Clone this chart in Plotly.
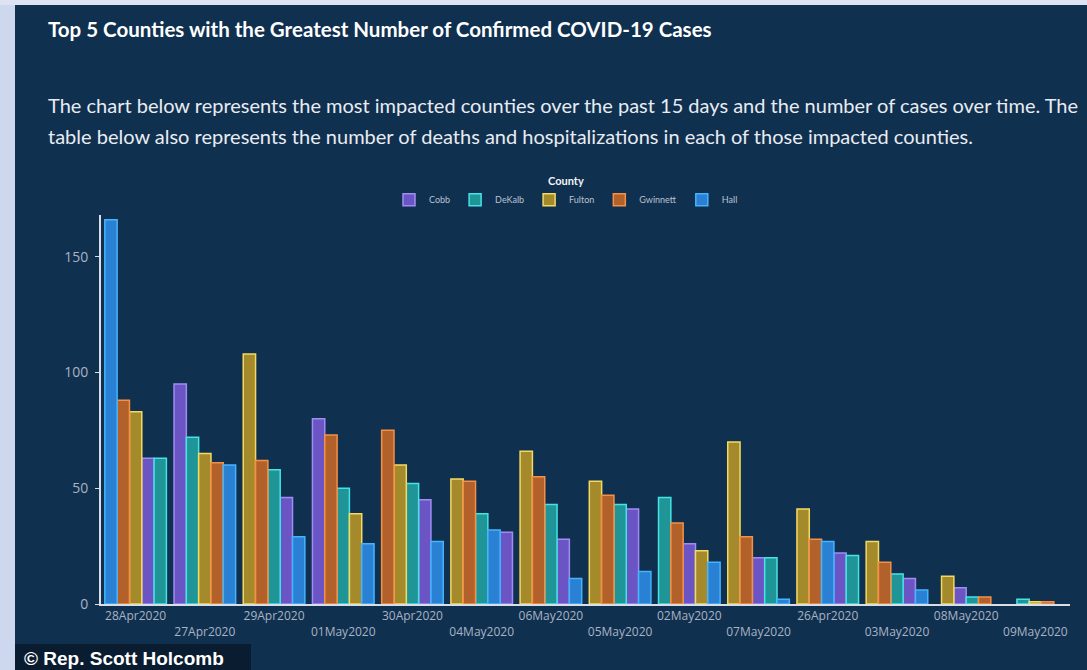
import plotly.graph_objects as go

# dados (casos confirmados por condado)
datas = ['28Apr2020', '27Apr2020', '29Apr2020', '01May2020', '30Apr2020', '04May2020', '06May2020',
         '05May2020', '02May2020', '07May2020', '26Apr2020', '03May2020', '08May2020', '09May2020']
condados = ['Cobb', 'DeKalb', 'Fulton', 'Gwinnett', 'Hall']
cobb = [63, 95, 46, 80, 45, 31, 28, 41, 26, 20, 22, 11, 7, None]
dekalb = [63, 72, 58, 50, 52, 39, 43, 43, 46, 20, 21, 13, 3, 2]
fulton = [83, 65, 108, 39, 60, 54, 66, 53, 23, 70, 41, 27, 12, 1]
gwinnett = [88, 61, 62, 73, 75, 53, 55, 47, 35, 29, 28, 18, 3, 1]
hall = [166, 60, 29, 26, 27, 32, 11, 14, 18, 2, 27, 6, None, None]
y_ticks = [0, 50, 100, 150]

valores = {'Cobb': cobb, 'DeKalb': dekalb, 'Fulton': fulton, 'Gwinnett': gwinnett, 'Hall': hall}

cores = {
    'Cobb': ('#6b55c4', '#a08cf5'),
    'DeKalb': ('#1f9598', '#45e3e6'),
    'Fulton': ('#a58a2c', '#f2da63'),
    'Gwinnett': ('#b3612b', '#f59046'),
    'Hall': ('#2a80d2', '#45b4ff'),
}

fundo = '#10304f'
largura = 0.178

# posição de cada barra: ordenada do maior para o menor dentro de cada data
offsets = {c: [] for c in condados}
for i in range(len(datas)):
    presentes = [c for c in condados if valores[c][i] is not None]
    ordem = sorted(presentes, key=lambda c: -valores[c][i])
    n = len(ordem)
    for c in condados:
        if c in ordem:
            offsets[c].append(-n * largura / 2 + ordem.index(c) * largura)
        else:
            offsets[c].append(0)

fig = go.Figure()
for c in condados:
    fig.add_trace(go.Bar(
        name=c,
        x=datas,
        y=valores[c],
        width=largura,
        offset=offsets[c],
        marker=dict(color=cores[c][0], line=dict(color=cores[c][1], width=1.5)),
    ))

# rótulos alternados no eixo x
rotulos = [d if i % 2 == 0 else '<br>' + d for i, d in enumerate(datas)]


def px_x(px):
    return (px - 101) / 969


def px_y(py):
    return (604 - py) / 389


fig.update_layout(
    width=1087, height=670,
    barmode='overlay',
    paper_bgcolor=fundo,
    plot_bgcolor=fundo,
    margin=dict(l=101, r=17, t=215, b=66),
    font=dict(family='Lato, Open Sans, sans-serif', color='#e8ecf2'),
    xaxis=dict(
        type='category', tickvals=datas, ticktext=rotulos,
        showgrid=False, showline=True, linecolor='#d8dde6', linewidth=2,
        ticks='', tickfont=dict(size=12, color='#a9b3c4', family='Open Sans, sans-serif'),
        tickangle=0, range=[-0.5, len(datas) - 0.5],
    ),
    yaxis=dict(
        range=[0, 168], tickvals=y_ticks, showgrid=False, zeroline=False,
        showline=True, linecolor='#d8dde6', linewidth=2,
        ticks='outside', ticklen=4, tickcolor='#d8dde6', ticklabelstandoff=4,
        tickfont=dict(size=14, color='#a9b3c4', family='Open Sans, sans-serif'),
    ),
    legend=dict(
        orientation='h', x=px_x(566), xanchor='center', y=px_y(171), yanchor='top',
        title=dict(text='<b>County</b>', side='top center', font=dict(size=11, color='#f2f4f8')),
        font=dict(size=9, color='#b9c2d0'), itemwidth=30, bgcolor='rgba(0,0,0,0)',
        tracegroupgap=0,
    ),
    shapes=[
        # moldura clara à esquerda e no topo
        dict(type='rect', xref='paper', yref='paper', x0=px_x(0), x1=px_x(15), y0=px_y(670), y1=px_y(0),
             fillcolor='#cdd7ee', line=dict(width=0), layer='below'),
        dict(type='rect', xref='paper', yref='paper', x0=px_x(0), x1=px_x(1087), y0=px_y(5), y1=px_y(0),
             fillcolor='#dde3f2', line=dict(width=0), layer='below'),
        # fundo da marca d'água
        dict(type='rect', xref='paper', yref='paper', x0=px_x(15), x1=px_x(251), y0=px_y(670), y1=px_y(644),
             fillcolor='#0a1c30', line=dict(width=0), layer='above'),
    ],
    annotations=[
        dict(text='<b>Top 5 Counties with the Greatest Number of Confirmed COVID-19 Cases</b>',
             xref='paper', yref='paper', x=px_x(46), y=px_y(29), xanchor='left', yanchor='middle',
             showarrow=False, font=dict(size=20.5, color='#ffffff')),
        dict(text='The chart below represents the most impacted counties over the past 15 days and the number of cases over time. The',
             xref='paper', yref='paper', x=px_x(46), y=px_y(105), xanchor='left', yanchor='middle',
             showarrow=False, font=dict(size=20, color='#e8ecf2')),
        dict(text='table below also represents the number of deaths and hospitalizations in each of those impacted counties.',
             xref='paper', yref='paper', x=px_x(46), y=px_y(136), xanchor='left', yanchor='middle',
             showarrow=False, font=dict(size=20, color='#e8ecf2')),
        dict(text='<b>© Rep. Scott Holcomb</b>',
             xref='paper', yref='paper', x=px_x(22), y=px_y(658), xanchor='left', yanchor='middle',
             showarrow=False, font=dict(size=19, color='#ffffff', family='Liberation Sans, Arial, sans-serif')),
    ],
)

# tira a margem padrão do body para a figura ocupar a janela inteira
fig.write_html('out.html', config={'displayModeBar': False},
               post_script="document.body.style.margin='0px';")
